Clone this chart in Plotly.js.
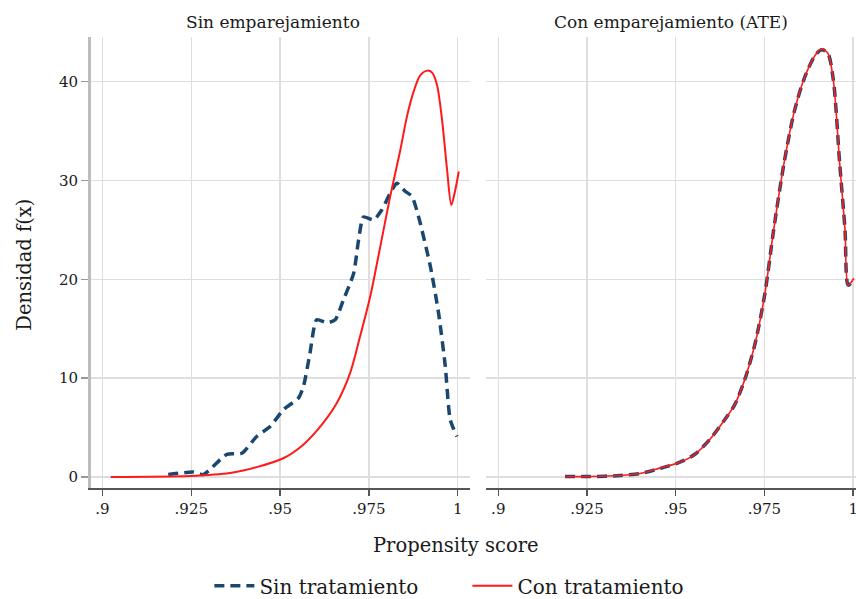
<!DOCTYPE html>
<html>
<head>
<meta charset="utf-8">
<script src="https://cdn.plot.ly/plotly-3.0.1.min.js"></script>
<style>html,body{margin:0;padding:0;background:#fff;}#chart{width:856px;height:599px;}</style>
</head>
<body>
<div id="chart"></div>
<script>
// Panel titles and legend names
const panelTitles = ["Sin emparejamiento", "Con emparejamiento (ATE)"];
const seriesNames = ["Sin tratamiento", "Con tratamiento"];
const xTickVals = [0.9, 0.925, 0.95, 0.975, 1];
const xTickText = [".9", ".925", ".95", ".975", "1"];
const yTickVals = [0, 10, 20, 30, 40];

// Left panel: Sin emparejamiento
const leftSinX = [0.9185, 0.9256, 0.9284, 0.935, 0.9392, 0.9434, 0.9472, 0.9509, 0.9552, 0.9566, 0.9584, 0.9603, 0.9632, 0.9655, 0.9678, 0.9707, 0.9721, 0.9735, 0.9763, 0.9786, 0.981, 0.9829, 0.9852, 0.9871, 0.989, 0.9923, 0.9946, 0.9965, 0.9979, 0.9998];
const leftSinY = [0.25, 0.5, 0.25, 2.3, 2.4, 4.1, 5.1, 6.8, 8.0, 9.2, 12.5, 15.9, 15.6, 15.9, 17.9, 20.6, 24.0, 26.3, 26.0, 27.0, 28.7, 29.7, 28.9, 28.4, 26.3, 21.3, 16.6, 11.2, 5.8, 4.1];
const leftConX = [0.9023, 0.9246, 0.9359, 0.9434, 0.9509, 0.9566, 0.9622, 0.966, 0.9697, 0.9725, 0.9754, 0.9782, 0.981, 0.9838, 0.9858, 0.9877, 0.9894, 0.9914, 0.9928, 0.9942, 0.9956, 0.997, 0.9982, 0.9993, 1.0003];
const leftConY = [0.0, 0.1, 0.4, 1.0, 1.9, 3.3, 5.5, 7.5, 10.5, 14.2, 18.3, 23.3, 28.4, 33.0, 36.6, 39.1, 40.6, 41.1, 40.9, 39.6, 36.1, 31.1, 27.5, 29.0, 30.9];

// Right panel: Con emparejamiento (ATE)
const rightSinX = [0.9188, 0.9258, 0.9343, 0.9399, 0.9455, 0.9512, 0.9554, 0.9596, 0.9638, 0.9666, 0.9694, 0.9723, 0.9751, 0.9776, 0.9805, 0.9833, 0.9861, 0.9892, 0.9911, 0.9928, 0.9944, 0.9962, 0.9977, 0.9986, 1.0002];
const rightSinY = [0.05, 0.05, 0.15, 0.35, 0.86, 1.5, 2.3, 3.8, 5.8, 7.3, 9.8, 13.4, 18.5, 25.0, 31.7, 36.8, 40.2, 42.6, 43.2, 42.9, 40.2, 31.7, 25.0, 19.4, 20.1];
const rightConX = [0.9188, 0.9258, 0.9343, 0.9399, 0.9455, 0.9512, 0.9554, 0.9596, 0.9638, 0.9666, 0.9694, 0.9723, 0.9751, 0.9776, 0.9805, 0.9833, 0.9861, 0.9892, 0.9911, 0.9928, 0.9944, 0.9962, 0.9977, 0.9986, 1.0002];
const rightConY = [0.05, 0.05, 0.15, 0.35, 0.9, 1.5, 2.3, 3.8, 5.8, 7.3, 9.8, 13.4, 18.5, 25.0, 31.7, 36.8, 40.2, 42.6, 43.3, 42.9, 40.2, 31.7, 25.0, 19.4, 20.1];

const FONT = "DejaVu Serif, Liberation Serif, serif";
const BLUE = "#1a476f";
const RED = "#ff1a1a";
const GRID = "#dedede";
const DASH = "10px,6px";
const TXT = "#1a1a1a";

const traces = [
  {x: leftSinX, y: leftSinY, xaxis: "x", yaxis: "y", type: "scatter", mode: "lines", name: seriesNames[0], legendgroup: "a",
   line: {color: BLUE, width: 3.5, dash: DASH, shape: "spline", smoothing: 0.6}},
  {x: leftConX, y: leftConY, xaxis: "x", yaxis: "y", type: "scatter", mode: "lines", name: seriesNames[1], legendgroup: "b",
   line: {color: RED, width: 2, shape: "spline", smoothing: 0.8}},
  {x: rightSinX, y: rightSinY, xaxis: "x2", yaxis: "y2", type: "scatter", mode: "lines", name: seriesNames[0], legendgroup: "a", showlegend: false,
   line: {color: BLUE, width: 3.5, dash: DASH, shape: "spline", smoothing: 0.8}},
  {x: rightConX, y: rightConY, xaxis: "x2", yaxis: "y2", type: "scatter", mode: "lines", name: seriesNames[1], legendgroup: "b", showlegend: false,
   line: {color: RED, width: 1.6, shape: "spline", smoothing: 0.8}}
];

const W = 856, H = 599, L = 91, T = 37, B = 110.5;
const plotW = W - L, plotH = H - T - B;
const xaxisBase = {
  tickvals: xTickVals, ticktext: xTickText, showgrid: true, gridcolor: GRID, gridwidth: 1.5,
  zeroline: false, showline: true, linecolor: "#555", linewidth: 1.5,
  ticks: "outside", ticklen: 6, tickwidth: 1.5, tickcolor: "#555", ticklabeloverflow: "allow",
  tickfont: {family: FONT, size: 15, color: TXT}, fixedrange: true
};
const yaxisBase = {
  range: [-1.11, 44.5], tickvals: yTickVals, showgrid: true, gridcolor: GRID, gridwidth: 1.5,
  zeroline: false, fixedrange: true
};

const layout = {
  width: W, height: H,
  margin: {l: L, r: 0, t: T, b: B, pad: 0},
  paper_bgcolor: "#fff", plot_bgcolor: "#fff",
  font: {family: FONT, color: TXT},
  xaxis: Object.assign({}, xaxisBase, {domain: [0, (470 - L) / plotW], range: [0.89676, 1.00346], anchor: "y"}),
  xaxis2: Object.assign({}, xaxisBase, {domain: [(486 - L) / plotW, 1], range: [0.89654, 1.0008], anchor: "y2"}),
  yaxis: Object.assign({}, yaxisBase, {anchor: "x", showline: true, linecolor: "#bdbdbd", linewidth: 3,
    ticks: "outside", ticklen: 7, tickwidth: 1.5, tickcolor: "#999", ticklabelstandoff: 0,
    tickfont: {family: FONT, size: 15, color: TXT}}),
  yaxis2: Object.assign({}, yaxisBase, {anchor: "x2", showline: false, showticklabels: false, ticks: "", matches: "y"}),
  showlegend: true,
  legend: {orientation: "h", xref: "container", yref: "container", x: 0.546, xanchor: "center", y: 0.022, yanchor: "middle",
    font: {family: FONT, size: 20, color: TXT}, itemwidth: 40, bgcolor: "rgba(0,0,0,0)", tracegroupgap: 0, entrywidth: 203},
  annotations: [
    {text: panelTitles[0], xref: "x domain", yref: "paper", x: 0.48, y: 1 + (37 - 22) / plotH, xanchor: "center", yanchor: "middle",
     showarrow: false, font: {family: FONT, size: 17, color: TXT}},
    {text: panelTitles[1], xref: "x2 domain", yref: "paper", x: 0.5, y: 1 + (37 - 22) / plotH, xanchor: "center", yanchor: "middle",
     showarrow: false, font: {family: FONT, size: 17, color: TXT}},
    {text: "Propensity score", xref: "paper", yref: "paper", x: (456 - L) / plotW, y: (488.5 - 546) / plotH, xanchor: "center", yanchor: "middle",
     showarrow: false, font: {family: FONT, size: 19.5, color: TXT}},
    {text: "Densidad f(x)", xref: "paper", yref: "paper", x: (25 - L) / plotW, y: (488.5 - 265) / plotH, xanchor: "center", yanchor: "middle",
     textangle: -90, showarrow: false, font: {family: FONT, size: 19.5, color: TXT}}
  ]
};

Plotly.newPlot("chart", traces, layout, {displayModeBar: false, staticPlot: true});
</script>
</body>
</html>
